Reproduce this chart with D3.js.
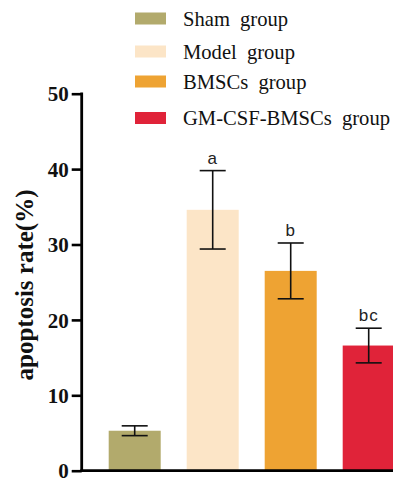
<!DOCTYPE html>
<html>
<head>
<meta charset="utf-8">
<script src="https://cdn.jsdelivr.net/npm/d3@7"></script>
<style>
html,body{margin:0;padding:0;background:#fff;}
svg{display:block;}
</style>
</head>
<body>
<svg id="chart" width="393" height="479"></svg>
<script>
const categories = ["Sham group", "Model group", "BMSCs group", "GM-CSF-BMSCs group"];
const means = [5.3, 34.6, 26.5, 16.6];
const errors = [0.65, 5.2, 3.7, 2.3];
const sigLabels = ["", "a", "b", "bc"];
const colors = ["#b2aa6c", "#fce5c7", "#eea333", "#e02339"];
const yTicks = [0, 10, 20, 30, 40, 50];

const svg = d3.select("#chart");
const y = d3.scaleLinear().domain([0, 50]).range([470.7, 93.7]);
const x = d3.scaleBand().domain(categories).range([95.7, 407.7]).paddingInner(1/3).paddingOuter(1/6);
const axisX = 81.7;

// bars
svg.append("g").selectAll("rect").data(categories).join("rect")
  .attr("x", d => x(d))
  .attr("width", x.bandwidth())
  .attr("y", (d, i) => y(means[i]))
  .attr("height", (d, i) => y(0) - y(means[i]))
  .attr("fill", (d, i) => colors[i]);

// error bars
const eb = svg.append("g").attr("stroke", "#111").attr("stroke-width", 1.6);
categories.forEach((c, i) => {
  const cx = x(c) + x.bandwidth() / 2;
  const top = y(means[i] + errors[i]), bot = y(means[i] - errors[i]);
  eb.append("line").attr("x1", cx).attr("x2", cx).attr("y1", top).attr("y2", bot);
  eb.append("line").attr("x1", cx - 13).attr("x2", cx + 13).attr("y1", top).attr("y2", top);
  eb.append("line").attr("x1", cx - 13).attr("x2", cx + 13).attr("y1", bot).attr("y2", bot);
});

// significance letters
svg.append("g").selectAll("text").data(categories).join("text")
  .attr("x", d => x(d) + x.bandwidth() / 2)
  .attr("y", (d, i) => y(means[i] + errors[i]) - 7)
  .attr("text-anchor", "middle")
  .attr("font-family", "Liberation Sans, Arial, sans-serif")
  .attr("font-size", 17)
  .attr("letter-spacing", 1)
  .attr("fill", "#222")
  .text((d, i) => sigLabels[i]);

// y axis
const yAxis = d3.axisLeft(y).tickValues(yTicks).tickSize(10).tickPadding(3).tickFormat(d3.format("d"));
const gy = svg.append("g").attr("transform", `translate(${axisX},0)`).call(yAxis);
gy.select(".domain").remove();
gy.selectAll(".tick line").attr("stroke", "#000").attr("stroke-width", 2.6);
gy.selectAll(".tick text")
  .attr("font-family", "Liberation Serif, Times New Roman, serif")
  .attr("font-weight", "bold")
  .attr("font-size", 21)
  .attr("fill", "#111")
  .attr("dy", "0.34em");
svg.append("line").attr("x1", axisX).attr("x2", axisX).attr("y1", y(50) - 1.3).attr("y2", y(0) + 1.3)
  .attr("stroke", "#000").attr("stroke-width", 2.8);
// x axis baseline
svg.append("line").attr("x1", axisX - 1.4).attr("x2", 393).attr("y1", y(0)).attr("y2", y(0))
  .attr("stroke", "#000").attr("stroke-width", 2.8);

// y title
svg.append("text")
  .attr("transform", `translate(33,285) rotate(-90)`)
  .attr("text-anchor", "middle")
  .attr("font-family", "Liberation Serif, Times New Roman, serif")
  .attr("font-weight", "bold")
  .attr("font-size", 25)
  .attr("fill", "#111")
  .text("apoptosis rate(%)");

// legend
const legendY = [18.5, 51.5, 81.5, 118];
const lg = svg.append("g");
categories.forEach((c, i) => {
  lg.append("rect").attr("x", 135).attr("y", legendY[i] - 6).attr("width", 31).attr("height", 12).attr("fill", colors[i]);
  lg.append("text").attr("x", 183).attr("y", legendY[i] + 7)
    .attr("font-family", "Liberation Serif, Times New Roman, serif")
    .attr("font-size", 20.6)
    .attr("word-spacing", 5)
    .attr("fill", "#111")
    .text(c);
});
</script>
</body>
</html>
